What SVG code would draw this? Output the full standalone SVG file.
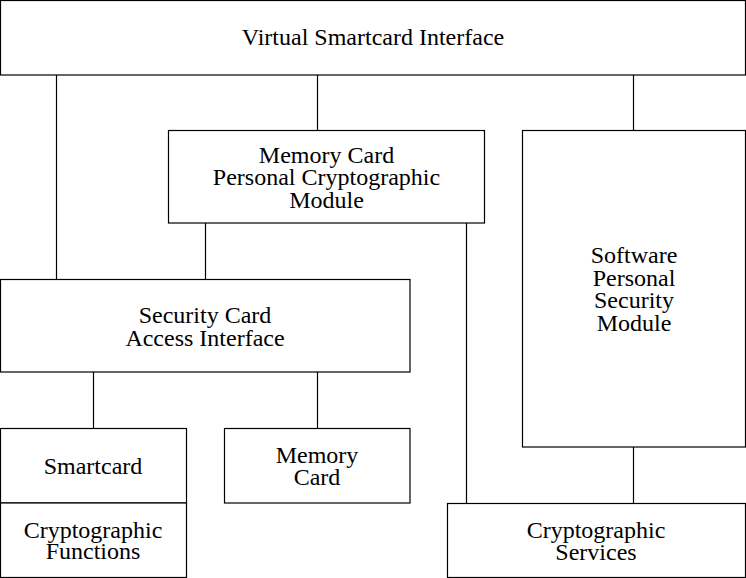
<svg xmlns="http://www.w3.org/2000/svg" width="746" height="578" viewBox="0 0 746 578">
<style>
.box{fill:#fff;stroke:#000;stroke-width:1.2}
.conn line{stroke:#000;stroke-width:1.2}
text{font-family:"Liberation Serif","Times New Roman",serif;font-size:24px;fill:#000;text-anchor:middle}
</style>
<rect width="746" height="578" fill="#fff"/>
<g id="connectors" class="conn">
<line x1="56.5" y1="75" x2="56.5" y2="279"/>
<line x1="317.5" y1="75" x2="317.5" y2="130"/>
<line x1="633.5" y1="75" x2="633.5" y2="130"/>
<line x1="205.5" y1="223" x2="205.5" y2="279"/>
<line x1="466.5" y1="223" x2="466.5" y2="503"/>
<line x1="633.5" y1="447" x2="633.5" y2="503"/>
<line x1="93.5" y1="372" x2="93.5" y2="428"/>
<line x1="317.5" y1="372" x2="317.5" y2="428"/>
</g>
<g id="virtual-smartcard-interface">
<rect class="box" x="0.5" y="0.5" width="745" height="74.5"/>
<text x="373" y="45">Virtual Smartcard Interface</text>
</g>
<g id="memory-card-pcm">
<rect class="box" x="168.5" y="130.5" width="316" height="92.5"/>
<text x="326.5" y="162.5">Memory Card</text>
<text x="326.5" y="185">Personal Cryptographic</text>
<text x="326.5" y="207.5">Module</text>
</g>
<g id="software-psm">
<rect class="box" x="522.5" y="130.5" width="223" height="316.5"/>
<text x="634" y="263">Software</text>
<text x="634" y="285.5">Personal</text>
<text x="634" y="308">Security</text>
<text x="634" y="330.5">Module</text>
</g>
<g id="security-card-access-interface">
<rect class="box" x="0.5" y="279.5" width="409.5" height="92.5"/>
<text x="205" y="323">Security Card</text>
<text x="205" y="345.5">Access Interface</text>
</g>
<g id="smartcard">
<rect class="box" x="0.5" y="428.5" width="186" height="74.5"/>
<text x="93" y="474">Smartcard</text>
</g>
<g id="cryptographic-functions">
<rect class="box" x="0.5" y="503" width="186" height="74.5"/>
<text x="93" y="538">Cryptographic</text>
<text x="93" y="559">Functions</text>
</g>
<g id="memory-card">
<rect class="box" x="224.5" y="428.5" width="185.5" height="74.5"/>
<text x="317" y="463">Memory</text>
<text x="317" y="485">Card</text>
</g>
<g id="cryptographic-services">
<rect class="box" x="447.5" y="503.5" width="298" height="74"/>
<text x="596" y="538">Cryptographic</text>
<text x="596" y="559.5">Services</text>
</g>
</svg>
